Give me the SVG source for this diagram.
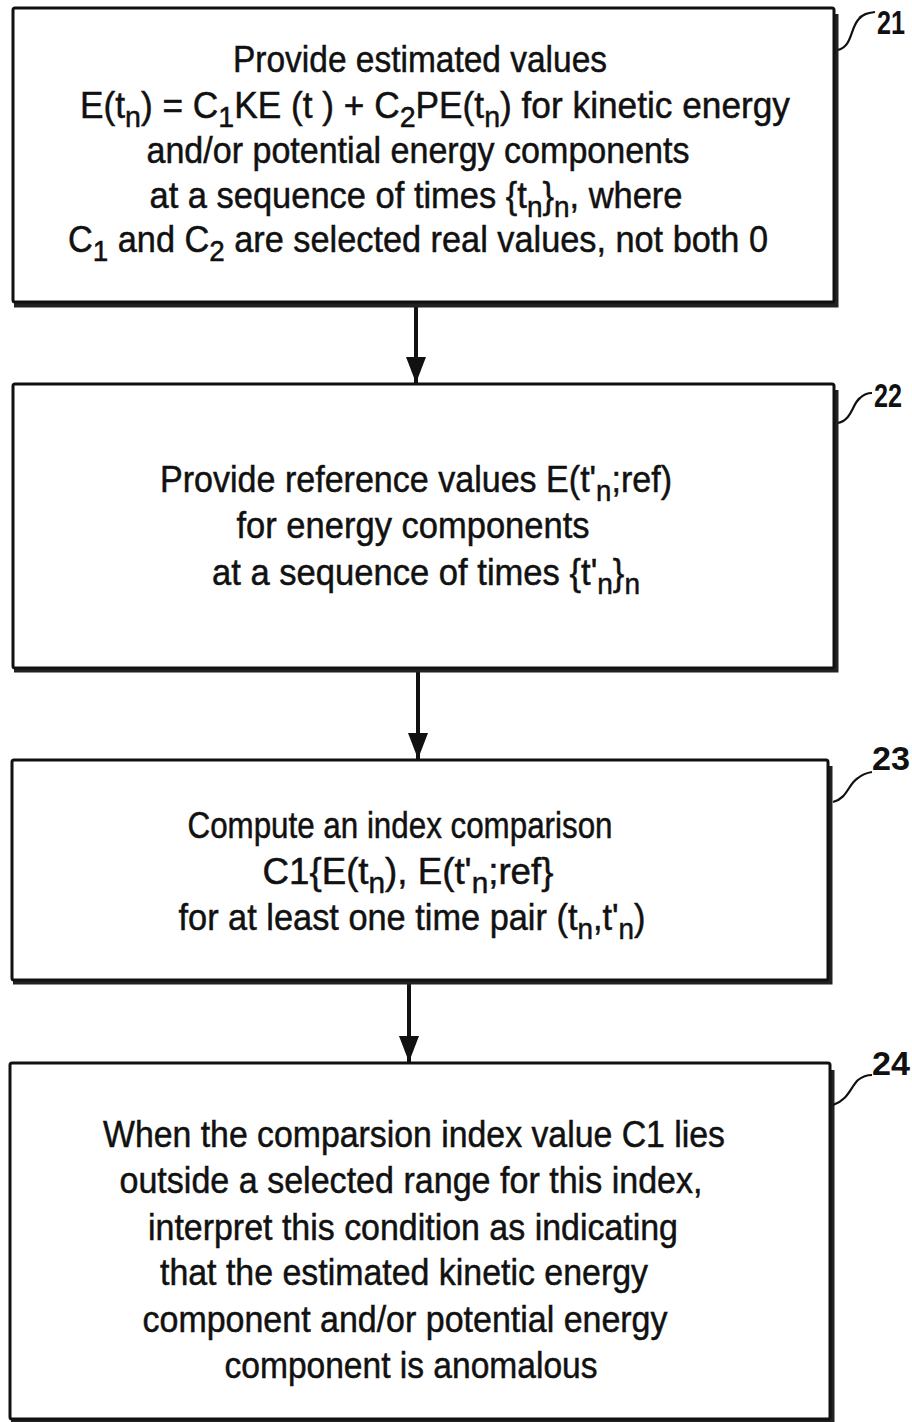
<svg xmlns="http://www.w3.org/2000/svg" width="912" height="1422" viewBox="0 0 912 1422">
<defs>
<style>
.box{fill:#fff;stroke:#111;stroke-width:3}
.shadow{fill:none;stroke:#222;stroke-width:5}
.t{font-family:"Liberation Sans",Arial,sans-serif;font-size:37px;fill:#111;stroke:#111;stroke-width:0.5;text-anchor:middle}
.lbl{font-family:"Liberation Sans",Arial,sans-serif;font-size:33px;font-weight:bold;fill:#111}
.lead{fill:none;stroke:#111;stroke-width:2.2}
.conn{stroke:#111;stroke-width:4;fill:none}
.sub{font-size:30px}
</style>
<marker id="ah" viewBox="0 0 26 20" refX="26" refY="10" markerWidth="26" markerHeight="20" markerUnits="userSpaceOnUse" orient="auto">
<path d="M0,0 L26,10 L0,20 Z" fill="#111"/>
</marker>
</defs>
<g id="connectors">
<line class="conn" x1="416" y1="305" x2="416" y2="383" marker-end="url(#ah)"/>
<line class="conn" x1="418" y1="670" x2="418" y2="759" marker-end="url(#ah)"/>
<line class="conn" x1="409" y1="982" x2="409" y2="1062" marker-end="url(#ah)"/>
</g>
<g id="node21">
<path class="shadow" d="M836,14 V305 H14"/>
<rect class="box" x="13" y="8" width="821" height="294" rx="2"/>
<text class="t" x="420" y="72" textLength="374" lengthAdjust="spacingAndGlyphs">Provide estimated values</text>
<text class="t" x="435" y="118" textLength="710" lengthAdjust="spacingAndGlyphs">E(t<tspan class="sub" dy="9">n</tspan><tspan dy="-9">) = C</tspan><tspan class="sub" dy="9">1</tspan><tspan dy="-9">KE (t  ) + C</tspan><tspan class="sub" dy="9">2</tspan><tspan dy="-9">PE(t</tspan><tspan class="sub" dy="9">n</tspan><tspan dy="-9">) for kinetic energy</tspan></text>
<text class="t" x="418" y="163" textLength="543" lengthAdjust="spacingAndGlyphs">and/or potential energy components</text>
<text class="t" x="416" y="208" textLength="533" lengthAdjust="spacingAndGlyphs">at a sequence of times {t<tspan class="sub" dy="9">n</tspan><tspan dy="-9">}</tspan><tspan class="sub" dy="9">n</tspan><tspan dy="-9">, where</tspan></text>
<text class="t" x="418" y="252" textLength="700" lengthAdjust="spacingAndGlyphs">C<tspan class="sub" dy="9">1</tspan><tspan dy="-9">  and C</tspan><tspan class="sub" dy="9">2</tspan><tspan dy="-9"> are selected real values, not both 0</tspan></text>
<path class="lead" d="M838,50 C852,46 850,30 858,20 C862,14 868,13 875,12"/>
<text class="lbl" x="877" y="34" textLength="28" lengthAdjust="spacingAndGlyphs">21</text>
</g>
<g id="node22">
<path class="shadow" d="M836,390 V670 H14"/>
<rect class="box" x="13" y="384" width="821" height="284" rx="2"/>
<text class="t" x="416" y="492" textLength="512" lengthAdjust="spacingAndGlyphs">Provide reference values E(t'<tspan class="sub" dy="9">n</tspan><tspan dy="-9">;ref)</tspan></text>
<text class="t" x="413" y="538" textLength="353" lengthAdjust="spacingAndGlyphs">for energy components</text>
<text class="t" x="426" y="585" textLength="428" lengthAdjust="spacingAndGlyphs">at a sequence of times {t'<tspan class="sub" dy="9">n</tspan><tspan dy="-9">}</tspan><tspan class="sub" dy="9">n</tspan></text>
<path class="lead" d="M838,423 C852,420 852,404 860,398 C864,394 868,393 872,393"/>
<text class="lbl" x="874" y="407" textLength="28" lengthAdjust="spacingAndGlyphs">22</text>
</g>
<g id="node23">
<path class="shadow" d="M830,766 V982 H13"/>
<rect class="box" x="12" y="760" width="816" height="220" rx="2"/>
<text class="t" x="400" y="838" textLength="425" lengthAdjust="spacingAndGlyphs">Compute an index comparison</text>
<text class="t" x="408" y="884" textLength="291" lengthAdjust="spacingAndGlyphs">C1{E(t<tspan class="sub" dy="9">n</tspan><tspan dy="-9">), E(t'</tspan><tspan class="sub" dy="9">n</tspan><tspan dy="-9">;ref}</tspan></text>
<text class="t" x="412" y="930" textLength="467" lengthAdjust="spacingAndGlyphs">for at least one time pair (t<tspan class="sub" dy="9">n</tspan><tspan dy="-9">,t'</tspan><tspan class="sub" dy="9">n</tspan><tspan dy="-9">)</tspan></text>
<path class="lead" d="M833,802 C848,798 848,784 858,778 C863,774 866,773 872,772"/>
<text class="lbl" x="872" y="770" textLength="38" lengthAdjust="spacingAndGlyphs">23</text>
</g>
<g id="node24">
<path class="shadow" d="M832,1070 V1420 H11"/>
<rect class="box" x="10" y="1063" width="820" height="356" rx="2"/>
<text class="t" x="414" y="1147" textLength="622" lengthAdjust="spacingAndGlyphs">When the comparsion index value C1 lies</text>
<text class="t" x="411" y="1193" textLength="583" lengthAdjust="spacingAndGlyphs">outside a selected range for this index,</text>
<text class="t" x="413" y="1240" textLength="530" lengthAdjust="spacingAndGlyphs">interpret this condition as indicating</text>
<text class="t" x="404" y="1285" textLength="488" lengthAdjust="spacingAndGlyphs">that the estimated kinetic energy</text>
<text class="t" x="405" y="1332" textLength="525" lengthAdjust="spacingAndGlyphs">component and/or potential energy</text>
<text class="t" x="411" y="1378" textLength="373" lengthAdjust="spacingAndGlyphs">component is anomalous</text>
<path class="lead" d="M833,1105 C848,1100 850,1088 858,1080 C863,1076 867,1075 872,1075"/>
<text class="lbl" x="872" y="1075" textLength="38" lengthAdjust="spacingAndGlyphs">24</text>
</g>
</svg>
